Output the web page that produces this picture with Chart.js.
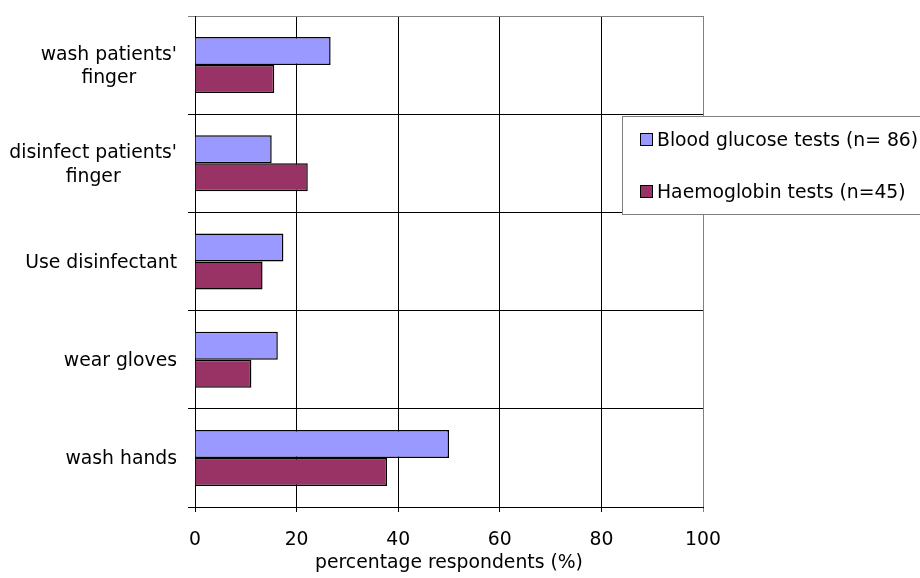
<!DOCTYPE html>
<html>
<head>
<meta charset="utf-8">
<script src="https://cdn.jsdelivr.net/npm/chart.js@4/dist/chart.umd.min.js"></script>
<style>
  html, body { margin: 0; padding: 0; background: #ffffff; }
  #wrap { width: 920px; height: 578px; position: relative; }
</style>
</head>
<body>
<div id="wrap"><canvas id="chart" width="920" height="578"></canvas></div>
<script>
// Hygiene steps reported by respondents, per test type (percent)
const categories = [
  ["wash patients'", "finger"],
  ["disinfect patients'", "finger"],
  "Use disinfectant",
  "wear gloves",
  "wash hands"
];
const bloodGlucose = [26.7, 15.1, 17.4, 16.3, 50.0];
const haemoglobin = [15.6, 22.2, 13.3, 11.1, 37.8];
const seriesNames = ["Blood glucose tests (n= 86)", "Haemoglobin tests (n=45)"];
const xTicks = [0, 20, 40, 60, 80, 100];
const xTitle = "percentage respondents (%)";

const FONT = "DejaVu Sans";
const FONT_SIZE = 18.8;

// Category labels: multi-line labels are centred on each other, block right-aligned.
const categoryLabels = {
  id: 'categoryLabels',
  afterDraw(chart) {
    const ctx = chart.ctx;
    const y = chart.scales.y;
    const rightEdge = y.right - 18;
    ctx.save();
    ctx.font = FONT_SIZE + 'px "' + FONT + '"';
    ctx.fillStyle = '#000';
    ctx.textBaseline = 'alphabetic';
    chart.data.labels.forEach((lab, i) => {
      const lines = Array.isArray(lab) ? lab : [lab];
      const widths = lines.map(l => ctx.measureText(l).width);
      const blockW = Math.max(...widths);
      const cx = rightEdge - blockW / 2;
      const center = y.getPixelForTick(i);
      lines.forEach((l, k) => {
        const base = center + 6.5 + (k - (lines.length - 1) / 2) * 23.5;
        ctx.textAlign = 'center';
        ctx.fillText(l, cx, base);
      });
    });
    // axis title centred under the value axis
    const x = chart.scales.x;
    ctx.textAlign = 'center';
    ctx.fillText(xTitle, (x.left + x.right) / 2, 568);
    ctx.restore();
  }
};

// Boxed legend sitting over the right edge of the plot
const boxLegend = {
  id: 'boxLegend',
  afterDraw(chart) {
    const ctx = chart.ctx;
    const left = 622, top = 116, bottom = 214;
    ctx.save();
    ctx.fillStyle = '#ffffff';
    ctx.fillRect(left, top, 920 - left + 5, bottom - top);
    ctx.strokeStyle = '#808080';
    ctx.lineWidth = 1;
    ctx.strokeRect(left + 0.5, top + 0.5, 920 - left + 5, bottom - top);
    ctx.font = FONT_SIZE + 'px "' + FONT + '"';
    ctx.textBaseline = 'alphabetic';
    ctx.textAlign = 'left';
    chart.data.datasets.forEach((ds, i) => {
      const base = 146 + i * 52;
      ctx.fillStyle = ds.backgroundColor;
      ctx.fillRect(640.5, base - 12.5, 12, 12);
      ctx.strokeStyle = '#000';
      ctx.strokeRect(640.5, base - 12.5, 12, 12);
      ctx.fillStyle = '#000';
      ctx.fillText(ds.label, 657, base);
    });
    ctx.restore();
  }
};

new Chart(document.getElementById('chart'), {
  type: 'bar',
  data: {
    labels: categories,
    datasets: [
      {
        label: seriesNames[0],
        data: bloodGlucose,
        backgroundColor: '#9999FF',
        borderColor: '#000000',
        borderWidth: 1.5,
        categoryPercentage: 0.57,
        barPercentage: 1.0
      },
      {
        label: seriesNames[1],
        data: haemoglobin,
        backgroundColor: '#993366',
        borderColor: '#000000',
        borderWidth: 1.5,
        categoryPercentage: 0.57,
        barPercentage: 1.0
      }
    ]
  },
  options: {
    indexAxis: 'y',
    responsive: false,
    animation: false,
    devicePixelRatio: 1,
    layout: { padding: { top: 16, right: 217, left: 0, bottom: 0 } },
    plugins: {
      legend: { display: false },
      tooltip: { enabled: false }
    },
    scales: {
      x: {
        min: 0,
        max: 100,
        afterBuildTicks(scale) { scale.ticks = xTicks.map(v => ({ value: v })); },
        afterFit(scale) { scale.height = 71; },
        ticks: {
          color: '#000',
          font: { family: FONT, size: FONT_SIZE },
          padding: 17,
          maxRotation: 0
        },
        grid: {
          color: ctx => (ctx.tick && ctx.tick.value === 100) ? '#808080' : '#000000',
          lineWidth: 1,
          tickLength: 5,
          drawTicks: true
        },
        border: { display: true, color: '#000000', width: 1 }
      },
      y: {
        afterFit(scale) { scale.width = 195; },
        ticks: { display: false },
        grid: {
          offset: true,
          color: ctx => ctx.index === 0 ? '#808080' : '#000000',
          lineWidth: 1,
          tickLength: 7,
          drawTicks: true
        },
        border: { display: true, color: '#000000', width: 1 }
      }
    }
  },
  plugins: [categoryLabels, boxLegend]
});
</script>
</body>
</html>
